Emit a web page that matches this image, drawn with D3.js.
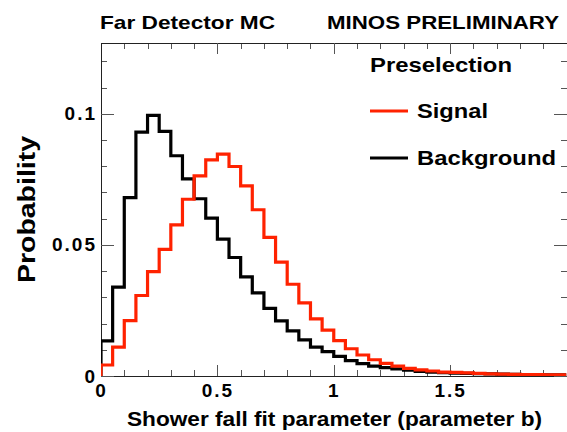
<!DOCTYPE html>
<meta charset="utf-8">
<style>
body { margin: 0; background: #fff; }
svg text { font-family: "Liberation Sans", Arial, sans-serif; font-weight: bold; fill: #000; }
.axis path { stroke: #222; stroke-width: 1px; shape-rendering: crispEdges; }
.axis line { stroke: #555; stroke-width: 1px; shape-rendering: crispEdges; }
.axis text { font-size: 19px; letter-spacing: 2px; }
.hist { fill: none; stroke-width: 3.2px; stroke-linejoin: miter; }
</style>
<svg width="567" height="432"></svg>
<script src="https://d3js.org/d3.v7.min.js"></script>
<script>
// histogram bins: 40 bins of width 0.05 on [0, 2]
var binLow = d3.range(40).map(function(i) { return i * 0.05; });
var signal = [0.0042, 0.0110, 0.0211, 0.0307, 0.0398, 0.0483, 0.0576, 0.0674, 0.0763, 0.0824,
              0.0846, 0.0799, 0.0725, 0.0634, 0.0529, 0.0434, 0.0350, 0.0279, 0.0218, 0.0175,
              0.0135, 0.0104, 0.0080, 0.0062, 0.0048, 0.0038, 0.0029, 0.0023, 0.0019, 0.0015,
              0.0014, 0.0012, 0.0010, 0.0008, 0.0007, 0.0006, 0.0005, 0.0005, 0.0004, 0.0004];
var background = [0.0134, 0.0339, 0.0680, 0.0930, 0.0994, 0.0933, 0.0840, 0.0752, 0.0676, 0.0602,
                  0.0522, 0.0452, 0.0378, 0.0317, 0.0258, 0.0210, 0.0172, 0.0138, 0.0110, 0.0093,
                  0.0075, 0.0059, 0.0047, 0.0038, 0.0032, 0.0027, 0.0022, 0.0018, 0.0015, 0.0013,
                  0.0011, 0.0010, 0.0009, 0.0008, 0.0007, 0.0006, 0.0005, 0.0005, 0.0004, 0.0004];
var xMajor = [0, 0.5, 1, 1.5, 2];
var xMajorLabels = ["0", "0.5", "1", "1.5", ""];
var yMajor = [0, 0.05, 0.1];
var yMajorLabels = ["0", "0.05", "0.1"];

var svg = d3.select("svg"),
    margin = {top: 43, right: 0, bottom: 56, left: 101},
    width = +svg.attr("width") - margin.left - margin.right - 0.5,
    height = +svg.attr("height") - margin.top - margin.bottom;

var x = d3.scaleLinear().domain([0, 2]).range([0, width]);
var y = d3.scaleLinear().domain([0, 0.127]).range([height, 0]);

var g = svg.append("g").attr("transform", "translate(" + margin.left + "," + margin.top + ")");

g.append("clipPath").attr("id", "clip")
  .append("rect").attr("width", width).attr("height", height);

var xMinor = d3.range(0, 2.0001, 0.1).map(function(d) { return +d.toFixed(2); });
var yMinor = d3.range(0, 0.1271, 0.01).map(function(d) { return +d.toFixed(3); });

// minor ticks, all four sides, pointing inward
g.append("g").attr("class", "axis").attr("transform", "translate(0," + height + ")")
  .call(d3.axisBottom(x).tickValues(xMinor).tickSize(-6).tickFormat(""));
g.append("g").attr("class", "axis")
  .call(d3.axisTop(x).tickValues(xMinor).tickSize(-6).tickFormat(""));
g.append("g").attr("class", "axis")
  .call(d3.axisLeft(y).tickValues(yMinor).tickSize(-6).tickFormat(""));
g.append("g").attr("class", "axis").attr("transform", "translate(" + width + ",0)")
  .call(d3.axisRight(y).tickValues(yMinor).tickSize(-6).tickFormat(""));

// major ticks with labels
g.append("g").attr("class", "axis").attr("transform", "translate(0," + height + ")")
  .call(d3.axisBottom(x).tickValues(xMajor).tickSize(-11).tickPadding(8)
    .tickFormat(function(d, i) { return xMajorLabels[i]; }));
g.append("g").attr("class", "axis")
  .call(d3.axisTop(x).tickValues(xMajor).tickSize(-11).tickFormat(""));
g.append("g").attr("class", "axis")
  .call(d3.axisLeft(y).tickValues(yMajor).tickSize(-13).tickPadding(4)
    .tickFormat(function(d, i) { return yMajorLabels[i]; }));
g.append("g").attr("class", "axis").attr("transform", "translate(" + width + ",0)")
  .call(d3.axisRight(y).tickValues(yMajor).tickSize(-13).tickFormat(""));

function steps(vals) {
  var pts = [[0, 0]];
  vals.forEach(function(v, i) { pts.push([binLow[i], v]); });
  pts.push([2, vals[vals.length - 1]]);
  return pts;
}
var line = d3.line()
  .x(function(d) { return x(d[0]); })
  .y(function(d) { return y(d[1]); })
  .curve(d3.curveStepAfter);

var plot = g.append("g").attr("clip-path", "url(#clip)");
plot.append("path").attr("class", "hist").attr("stroke", "#000").attr("d", line(steps(background)));
plot.append("path").attr("class", "hist").attr("stroke", "#ff2200").attr("d", line(steps(signal)));

// titles
svg.append("text").attr("x", 100).attr("y", 29).attr("font-size", 19)
  .attr("textLength", 175).attr("lengthAdjust", "spacingAndGlyphs").text("Far Detector MC");
svg.append("text").attr("x", 327).attr("y", 29).attr("font-size", 19)
  .attr("textLength", 232).attr("lengthAdjust", "spacingAndGlyphs").text("MINOS PRELIMINARY");

svg.append("text").attr("x", 127).attr("y", 426).attr("font-size", 20)
  .attr("textLength", 415).attr("lengthAdjust", "spacingAndGlyphs")
  .text("Shower fall fit parameter (parameter b)");
svg.append("text").attr("transform", "translate(35,283) rotate(-90)").attr("font-size", 23)
  .attr("textLength", 147).attr("lengthAdjust", "spacingAndGlyphs").text("Probability");

// legend
var legend = svg.append("g");
legend.append("text").attr("x", 370).attr("y", 72).attr("font-size", 21)
  .attr("textLength", 142).attr("lengthAdjust", "spacingAndGlyphs").text("Preselection");
var entries = [
  {name: "Signal", color: "#ff2200", y: 111, len: 71},
  {name: "Background", color: "#000", y: 158, len: 139}
];
entries.forEach(function(e) {
  legend.append("line").attr("x1", 370).attr("x2", 408).attr("y1", e.y).attr("y2", e.y)
    .attr("stroke", e.color).attr("stroke-width", 3);
  legend.append("text").attr("x", 417).attr("y", e.y + 7).attr("font-size", 21)
    .attr("textLength", e.len).attr("lengthAdjust", "spacingAndGlyphs").text(e.name);
});
</script>
